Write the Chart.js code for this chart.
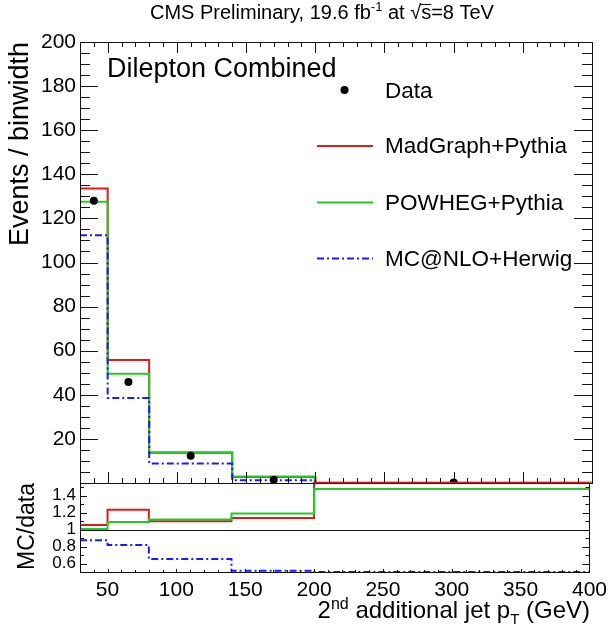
<!DOCTYPE html>
<html>
<head>
<meta charset="utf-8">
<script src="https://cdn.jsdelivr.net/npm/chart.js@4.4.1/dist/chart.umd.min.js"></script>
<style>
  html, body { margin: 0; padding: 0; background: #fff; }
  #wrap { position: relative; width: 613px; height: 628px; overflow: hidden; }
  #wrap canvas { position: absolute; left: 0; top: 0; }
</style>
</head>
<body>
<div id="wrap">
  <canvas id="mainPad" width="613" height="628"></canvas>
  <canvas id="ratioPad" width="613" height="628"></canvas>
</div>
<script>
// Binning of the 2nd additional jet pT (GeV)
const binEdges = [30, 50, 80, 140, 200, 400];
const binCenters = [40, 65, 110, 170, 300];

// Events / binwidth
const dataValues     = [128.0, 45.8, 12.4, 1.5, 0.25];
const madgraphValues = [133.6, 55.8, 13.7, 2.7, 0.15];
const powhegValues   = [127.6, 49.5, 13.9, 2.9, 0.15];
const mcatnloValues  = [112.4, 38.6, 8.9, 1.2, 0.05];

// MC / data
const madgraphRatio = [1.054, 1.235, 1.10, 1.138, 1.55];
const powhegRatio   = [1.007, 1.09, 1.12, 1.19, 1.478];
const mcatnloRatio  = [0.874, 0.818, 0.653, 0.515, 0.50];

// Tick labels
const mainYTicks  = [20, 40, 60, 80, 100, 120, 140, 160, 180, 200];
const ratioYTicks = [0.6, 0.8, 1, 1.2, 1.4];
const xTicks      = [50, 100, 150, 200, 250, 300, 350, 400];

const FONT = '"Liberation Sans", Arial, Helvetica, sans-serif';
const RED = '#dc1c1c';
const GREEN = '#22cc22';
const BLUE = '#1a1aff';
const DASHDOT = [7, 3, 2, 3];

Chart.defaults.font.family = FONT;
Chart.defaults.color = '#000';

// Histogram outline: one point per left bin edge plus the last right edge
function histPoints(values) {
  const pts = values.map((v, i) => ({ x: binEdges[i], y: v }));
  pts.push({ x: binEdges[binEdges.length - 1], y: values[values.length - 1] });
  return pts;
}

function histDataset(label, values, color, order, dash) {
  return {
    label, data: histPoints(values), borderColor: color, borderWidth: 2,
    borderDash: dash || [], stepped: true, pointRadius: 0, fill: false,
    order, clip: 2, borderJoinStyle: 'miter', borderCapStyle: 'butt'
  };
}

// Frame with ROOT-style inward tick marks
function framePlugin(opt) {
  return {
    id: 'frame',
    afterDatasetsDraw(chart) {
      const { ctx, chartArea: a, scales: { x, y } } = chart;
      ctx.save();
      ctx.strokeStyle = '#111';
      ctx.lineWidth = 1;
      ctx.beginPath();
      for (let v = x.min; v <= x.max + 1e-9; v += opt.xMinorStep) {
        const px = Math.round(x.getPixelForValue(v)) + 0.5;
        const major = Math.abs(v / opt.xMajorStep - Math.round(v / opt.xMajorStep)) < 1e-6;
        const len = major ? opt.xMajorLen : opt.xMinorLen;
        if (opt.bottomTicks) { ctx.moveTo(px, a.bottom); ctx.lineTo(px, a.bottom - len); }
        if (opt.topTicks) { ctx.moveTo(px, a.top); ctx.lineTo(px, a.top + len); }
      }
      for (let i = 0; ; i++) {
        const v = opt.yStart + i * opt.yMinorStep;
        if (v > y.max + 1e-9) break;
        const py = Math.round(y.getPixelForValue(v)) + 0.5;
        const r = (v - opt.yMajorBase) / opt.yMajorStep;
        const major = Math.abs(r - Math.round(r)) < 1e-6;
        const len = major ? opt.yMajorLen : opt.yMinorLen;
        ctx.moveTo(a.left, py); ctx.lineTo(a.left + len, py);
        ctx.moveTo(a.right, py); ctx.lineTo(a.right - len, py);
      }
      ctx.stroke();
      if (opt.unityLine) {
        const py = Math.round(y.getPixelForValue(1)) + 0.5;
        ctx.beginPath(); ctx.moveTo(a.left, py); ctx.lineTo(a.right, py); ctx.stroke();
      }
      ctx.strokeRect(Math.round(a.left) + 0.5, Math.round(a.top) + 0.5,
        Math.round(a.right - a.left), Math.round(a.bottom - a.top));
      ctx.restore();
    }
  };
}

// Draws a run of text pieces with their own sizes and vertical shifts
function drawRich(ctx, x, y, parts, align) {
  let total = 0;
  parts.forEach(p => { ctx.font = p.size + 'px ' + FONT; p.w = ctx.measureText(p.t).width; total += p.w; });
  let cx = align === 'right' ? x - total : x;
  const out = [];
  parts.forEach(p => {
    ctx.font = p.size + 'px ' + FONT;
    ctx.fillText(p.t, cx, y + (p.dy || 0));
    out.push({ x: cx, w: p.w });
    cx += p.w;
  });
  return out;
}

const mainTextPlugin = {
  id: 'mainText',
  afterDraw(chart) {
    const ctx = chart.ctx;
    ctx.save();
    ctx.fillStyle = '#000';
    ctx.textBaseline = 'alphabetic';
    ctx.textAlign = 'left';

    // Header
    const pos = drawRich(ctx, 150, 19, [
      { t: 'CMS Preliminary, 19.6 fb', size: 20 },
      { t: '-1', size: 13, dy: -8 },
      { t: ' at ', size: 20 },
      { t: '\u221A', size: 20 },
      { t: 's=8 TeV', size: 20 }
    ]);
    ctx.font = '20px ' + FONT;
    const sx = pos[3].x + pos[3].w - 1;
    const sw = ctx.measureText('s').width;
    ctx.strokeStyle = '#000'; ctx.lineWidth = 1;
    ctx.beginPath(); ctx.moveTo(sx, 4.5); ctx.lineTo(sx + sw + 1, 4.5); ctx.stroke();

    // Channel label
    ctx.font = '27px ' + FONT;
    ctx.fillText('Dilepton Combined', 107, 77);

    // Legend
    ctx.font = '22.5px ' + FONT;
    ctx.textBaseline = 'middle';
    const lx = 385;
    ctx.beginPath(); ctx.arc(344.5, 90, 4, 0, Math.PI * 2); ctx.fill();
    ctx.fillText('Data', lx, 92);
    const entries = [
      { t: 'MadGraph+Pythia', c: RED, y: 146, dash: [] },
      { t: 'POWHEG+Pythia', c: GREEN, y: 202.5, dash: [] },
      { t: 'MC@NLO+Herwig', c: BLUE, y: 258.5, dash: DASHDOT }
    ];
    entries.forEach(e => {
      ctx.save();
      ctx.strokeStyle = e.c; ctx.lineWidth = 2; ctx.setLineDash(e.dash);
      ctx.beginPath(); ctx.moveTo(317, e.y); ctx.lineTo(373, e.y); ctx.stroke();
      ctx.restore();
      ctx.fillText(e.t, lx, e.y + 1);
    });

    // Y title, aligned to the top of the frame
    ctx.save();
    ctx.translate(28, chart.chartArea.top);
    ctx.rotate(-Math.PI / 2);
    ctx.textAlign = 'right';
    ctx.textBaseline = 'alphabetic';
    ctx.font = '27px ' + FONT;
    ctx.fillText('Events / binwidth', 0, 0);
    ctx.restore();
    ctx.restore();
  }
};

const ratioTextPlugin = {
  id: 'ratioText',
  afterDraw(chart) {
    const ctx = chart.ctx;
    ctx.save();
    ctx.fillStyle = '#000';
    ctx.textBaseline = 'alphabetic';
    drawRich(ctx, 590, 618, [
      { t: '2', size: 24 },
      { t: 'nd', size: 16, dy: -9 },
      { t: ' additional jet p', size: 24 },
      { t: 'T', size: 15, dy: 6 },
      { t: ' (GeV)', size: 24 }
    ], 'right');

    ctx.save();
    ctx.translate(34, chart.chartArea.top);
    ctx.rotate(-Math.PI / 2);
    ctx.textAlign = 'right';
    ctx.font = '23px ' + FONT;
    ctx.fillText('MC/data', 0, 0);
    ctx.restore();
    ctx.restore();
  }
};

const xScaleBase = {
  type: 'linear', min: binEdges[0], max: binEdges[binEdges.length - 1],
  grid: { display: false, drawTicks: false }, border: { display: false },
  afterBuildTicks(s) { s.ticks = xTicks.map(v => ({ value: v })); }
};

// Upper pad: distributions
new Chart(document.getElementById('mainPad'), {
  type: 'line',
  data: {
    datasets: [
      {
        label: 'Data', data: dataValues.map((v, i) => ({ x: binCenters[i], y: v })),
        showLine: false, pointRadius: 4, pointHoverRadius: 4, pointBackgroundColor: '#000',
        pointBorderWidth: 0, order: 0, clip: 0
      },
      histDataset('MC@NLO+Herwig', mcatnloValues, BLUE, 1, DASHDOT),
      histDataset('POWHEG+Pythia', powhegValues, GREEN, 2),
      histDataset('MadGraph+Pythia', madgraphValues, RED, 3)
    ]
  },
  options: {
    responsive: false, animation: false, devicePixelRatio: 1,
    events: [],
    layout: { padding: { left: 0, right: 21, top: 42, bottom: 145 } },
    plugins: { legend: { display: false }, tooltip: { enabled: false } },
    scales: {
      x: Object.assign({}, xScaleBase, { ticks: { display: false }, afterFit(s) { s.height = 0; } }),
      y: {
        min: 0, max: 200,
        grid: { display: false, drawTicks: false }, border: { display: false },
        ticks: { font: { size: 21 }, padding: 4, color: '#000', autoSkip: false, callback: v => String(v) },
        afterBuildTicks(s) { s.ticks = mainYTicks.map(v => ({ value: v })); },
        afterFit(s) { s.width = 80; }
      }
    }
  },
  plugins: [framePlugin({
    xMinorStep: 10, xMajorStep: 50, xMajorLen: 11, xMinorLen: 5, bottomTicks: true, topTicks: true,
    yStart: 0, yMinorStep: 5, yMajorBase: 0, yMajorStep: 20, yMajorLen: 18, yMinorLen: 10
  }), mainTextPlugin]
});

// Lower pad: MC / data
new Chart(document.getElementById('ratioPad'), {
  type: 'line',
  data: {
    datasets: [
      histDataset('MC@NLO+Herwig', mcatnloRatio, BLUE, 1, DASHDOT),
      histDataset('POWHEG+Pythia', powhegRatio, GREEN, 2),
      histDataset('MadGraph+Pythia', madgraphRatio, RED, 3)
    ]
  },
  options: {
    responsive: false, animation: false, devicePixelRatio: 1,
    events: [],
    layout: { padding: { left: 0, right: 21, top: 483, bottom: 0 } },
    plugins: { legend: { display: false }, tooltip: { enabled: false } },
    scales: {
      x: Object.assign({}, xScaleBase, {
        ticks: { font: { size: 21 }, padding: 6, color: '#000', maxRotation: 0, autoSkip: false, callback: v => String(v) },
        afterFit(s) { s.height = 56; }
      }),
      y: {
        min: 0.5, max: 1.55,
        grid: { display: false, drawTicks: false }, border: { display: false },
        ticks: { font: { size: 17 }, padding: 4, color: '#000', autoSkip: false, callback: v => String(v) },
        afterBuildTicks(s) { s.ticks = ratioYTicks.map(v => ({ value: v })); },
        afterFit(s) { s.width = 80; }
      }
    }
  },
  plugins: [framePlugin({
    xMinorStep: 10, xMajorStep: 50, xMajorLen: 3, xMinorLen: 2, bottomTicks: true, topTicks: false,
    yStart: 0.5, yMinorStep: 0.1, yMajorBase: 0.6, yMajorStep: 0.2, yMajorLen: 7, yMinorLen: 4,
    unityLine: true
  }), ratioTextPlugin]
});
</script>
</body>
</html>
